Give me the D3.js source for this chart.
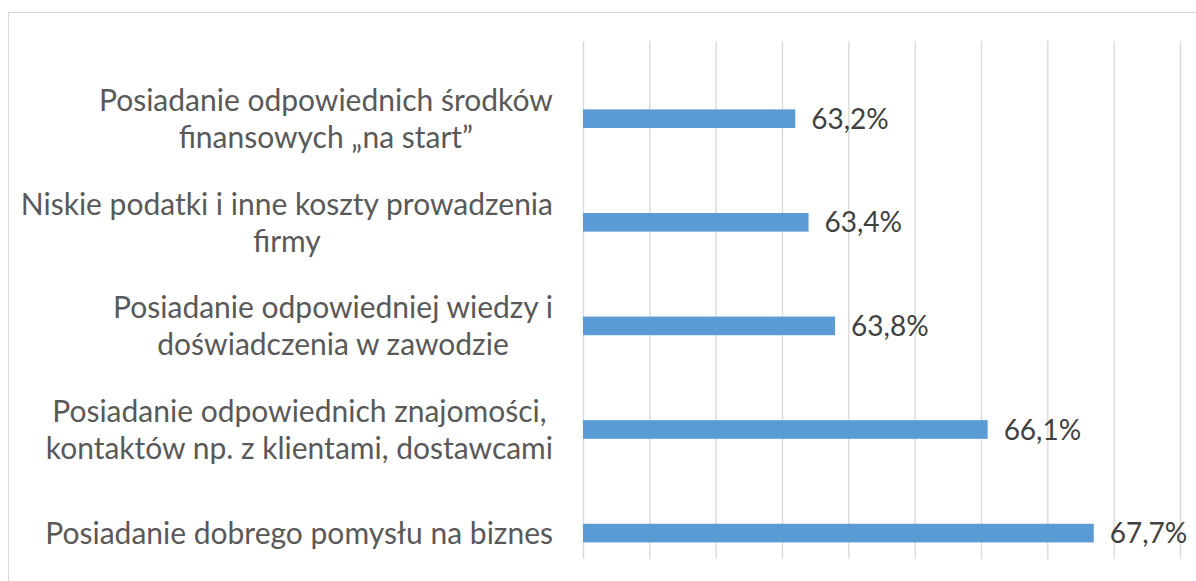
<!DOCTYPE html>
<html>
<head>
<meta charset="utf-8">
<script src="https://cdn.jsdelivr.net/npm/d3@7"></script>
<style>
  html, body { margin: 0; padding: 0; background: #ffffff; }
  svg { display: block; }
  .cat-label { font-family: Lato, "Open Sans", sans-serif; font-size: 30px; fill: #595959; }
  .val-label { font-family: Lato, "Open Sans", sans-serif; font-size: 28px; fill: #404040; }
</style>
</head>
<body>
<svg id="chart" width="1196" height="581"></svg>
<script>
// -----------------------------------------------------------------------------

var categories = [
  'Posiadanie odpowiednich środków\nfinansowych „na start”',
  'Niskie podatki i inne koszty prowadzenia\nfirmy',
  'Posiadanie odpowiedniej wiedzy i\ndoświadczenia w zawodzie',
  'Posiadanie odpowiednich znajomości,\nkontaktów np. z klientami, dostawcami',
  'Posiadanie dobrego pomysłu na biznes'
];

var values = [63.2, 63.4, 63.8, 66.1, 67.7];

var axisMin = 60;
var axisMax = 69;
var gridTicks = [60, 61, 62, 63, 64, 65, 66, 67, 68, 69];

// -----------------------------------------------------------------------------

var svg = d3.select('#chart');

var plot = { left: 583, right: 1180, top: 41, bottom: 559 };

var x = d3.scaleLinear()
  .domain([axisMin, axisMax])
  .range([plot.left, plot.right]);

var y = d3.scaleBand()
  .domain(categories)
  .range([plot.top, plot.bottom])
  .padding(0);

// bars sit in the lower part of each band (empty second series in the source)
var barOffset = 0.66;
var barSize = 0.18;

function barCenter(d) {
  return y(d) + y.bandwidth() * (barOffset + barSize / 2);
}

var fmt = function (v) { return d3.format('.1f')(v).replace('.', ',') + '%'; };

// - - - - - - - - - - - - - - - - - - - - - - - - - - - - - - - - - - - - - -

svg.append('rect')
  .attr('x', 8.5)
  .attr('y', 12.5)
  .attr('width', 1200)
  .attr('height', 600)
  .attr('fill', 'none')
  .attr('stroke', '#d9d9d9')
  .attr('stroke-width', 1);

// - - - - - - - - - - - - - - - - - - - - - - - - - - - - - - - - - - - - - -

var gGrid = svg.append('g')
  .attr('transform', 'translate(0,' + plot.bottom + ')')
  .call(
    d3.axisBottom(x)
      .tickValues(gridTicks)
      .tickSize(-(plot.bottom - plot.top))
      .tickFormat('')
  );

gGrid.select('.domain').remove();
gGrid.selectAll('.tick line')
  .attr('stroke', '#d9d9d9')
  .attr('stroke-width', 1.4);

// - - - - - - - - - - - - - - - - - - - - - - - - - - - - - - - - - - - - - -

var data = categories.map(function (c, i) {
  return { category: c, value: values[i] };
});

svg.append('g')
  .selectAll('rect')
  .data(data)
  .join('rect')
  .attr('x', x(axisMin))
  .attr('y', function (d) { return y(d.category) + y.bandwidth() * barOffset; })
  .attr('width', function (d) { return x(d.value) - x(axisMin); })
  .attr('height', y.bandwidth() * barSize)
  .attr('fill', '#5b9bd5');

svg.append('g')
  .selectAll('text')
  .data(data)
  .join('text')
  .attr('class', 'val-label')
  .attr('x', function (d) { return x(d.value) + 16; })
  .attr('y', function (d) { return barCenter(d.category); })
  .attr('dy', '0.36em')
  .text(function (d) { return fmt(d.value); });

// - - - - - - - - - - - - - - - - - - - - - - - - - - - - - - - - - - - - - -

var lineHeight = 37;

var catText = svg.append('g')
  .selectAll('text')
  .data(categories)
  .join('text')
  .attr('class', 'cat-label')
  .attr('text-anchor', 'middle');

catText.each(function (d) {
  var lines = d.split('\n');
  var t = d3.select(this);
  var first = -(lines.length - 1) / 2 * lineHeight;
  lines.forEach(function (line, i) {
    t.append('tspan')
      .attr('x', 0)
      .attr('y', barCenter(d) + first + i * lineHeight)
      .attr('dy', '0.36em')
      .text(line);
  });
  // right align the block, centre each line within it
  var w = this.getBBox().width;
  var cx = x(axisMin) - 30 - w / 2;
  t.selectAll('tspan').attr('x', cx);
});

// -----------------------------------------------------------------------------
</script>
</body>
</html>
